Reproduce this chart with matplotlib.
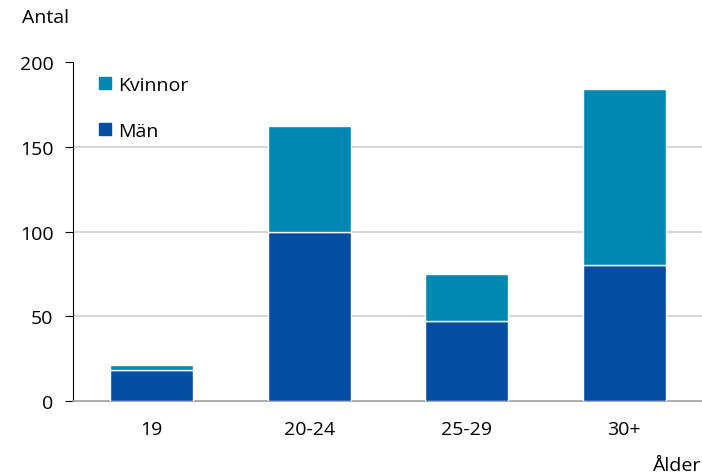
import matplotlib.pyplot as plt
from matplotlib.lines import Line2D

# Data
alder = ['19', '20-24', '25-29', '30+']
man = [18, 100, 47, 80]
kvinnor = [3, 62, 28, 104]

c_man = '#034ea2'
c_kv = '#0087b2'

plt.rcParams['font.family'] = ['Open Sans', 'DejaVu Sans']
fs = 14

fig = plt.figure(figsize=(7.02, 4.77), dpi=100)
ax = fig.add_axes([73 / 702, 1 - 402 / 477, 630 / 702, 339 / 477])

x = range(len(alder))
ax.bar(x, man, width=0.53, color=c_man, edgecolor='white', linewidth=1, zorder=3)
ax.bar(x, kvinnor, width=0.53, bottom=man, color=c_kv, edgecolor='white', linewidth=1, zorder=3)

ax.set_xlim(-0.5, 3.5)
ax.set_ylim(0, 200)
ax.set_yticks([0, 50, 100, 150, 200])
ax.set_xticks(list(x))
ax.set_xticklabels(alder)
for y in [50, 100, 150]:
    ax.axhline(y, color='#d0d0d0', linewidth=1.2, zorder=1)

ax.spines['top'].set_visible(False)
ax.spines['right'].set_visible(False)
ax.spines['left'].set_color('black')
ax.spines['bottom'].set_color('#a0a0a0')
ax.spines['bottom'].set_linewidth(1.2)
ax.tick_params(axis='y', length=6, color='black', labelsize=fs, pad=8)
ax.tick_params(axis='x', length=0, labelsize=fs, pad=14)

fig.text(22 / 702, 1 - 18 / 477, 'Antal', fontsize=fs, va='center', ha='left')
fig.text(700 / 702, 1 - 466 / 477, 'Ålder', fontsize=fs, va='center', ha='right')

handles = [Line2D([], [], marker='s', linestyle='none', markersize=8, color=c_kv),
           Line2D([], [], marker='s', linestyle='none', markersize=8, color=c_man)]
ax.legend(handles, ['Kvinnor', 'Män'], loc='upper left', bbox_to_anchor=(0.005, 1.01),
          frameon=False, fontsize=fs, labelspacing=1.45, handletextpad=0.05,
          handlelength=1.2)

fig.savefig('out.png', dpi=100)
